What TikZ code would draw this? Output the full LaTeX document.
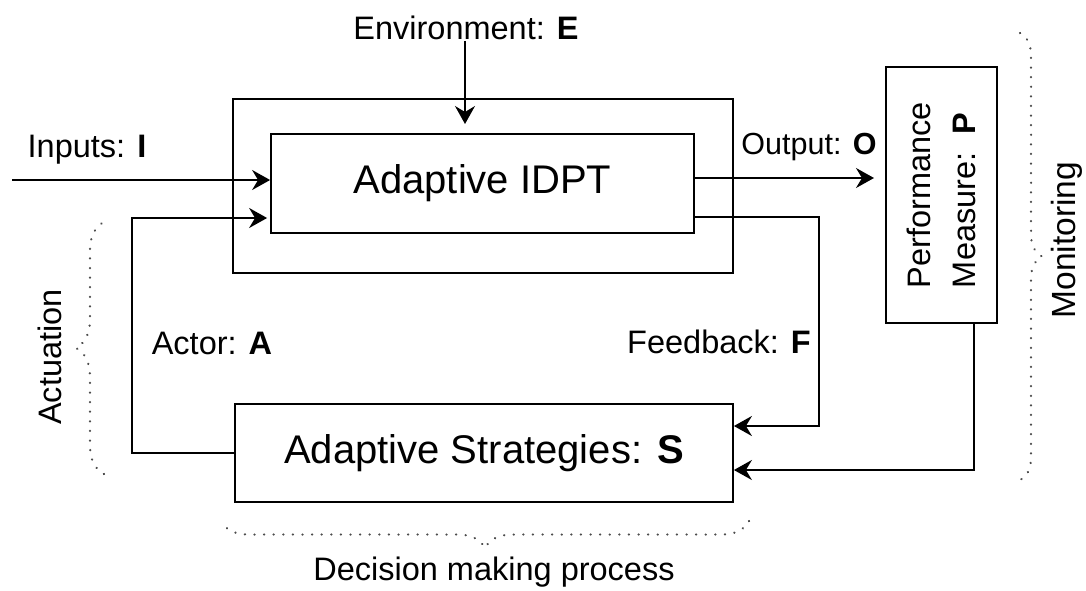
\documentclass[tikz,border=0pt]{standalone}
\usepackage{fontspec}
\setmainfont{Liberation Sans}
\usetikzlibrary{arrows.meta,decorations.pathreplacing}
\begin{document}
\begin{tikzpicture}[x=1pt,y=-1pt,
  line width=1.8pt,
  lbl/.style={font=\fontsize{32.5}{40}\selectfont, inner sep=0pt},
  big/.style={font=\fontsize{40}{48}\selectfont},
  boxs/.style={draw, rectangle, inner sep=0pt},
  arr/.style={-{Stealth[length=18pt,width=20pt,inset=6pt]}},
  dots/.style={line width=2.4pt, black!70, dash pattern=on 0.1pt off 9.5pt, line cap=round},
]
\useasboundingbox (0,0) rectangle (1086,590);

% boxes
\node[boxs, minimum width=500pt, minimum height=174pt] (outer) at (483,186) {};
\node[boxs, minimum width=423pt, minimum height=99pt, big] (idpt) at (482.5,183.5) {Adaptive IDPT};
\node[boxs, minimum width=498pt, minimum height=98pt, big] (strat) at (484,453) {Adaptive Strategies: \textbf{S}};
\node[boxs, minimum width=111pt, minimum height=256pt] (perf) at (941.5,195) {};
\node[lbl, rotate=90, align=left, font=\fontsize{32.5}{45}\selectfont] (perftxt) at (perf.center) {Performance\\Measure:\ \ \textbf{P}};

% labels
\node[lbl] (lin) at (87,150) {Inputs: \textbf{I}};
\node[lbl] (lenv) at (466,28) {Environment: \textbf{E}};
\node[lbl, font=\fontsize{30.5}{38}\selectfont] (lout) at (809,147) {Output: \textbf{O}};
\node[lbl] (lact) at (212,343) {Actor: \textbf{A}};
\node[lbl] (lfb) at (719,342) {Feedback: \textbf{F}};
\node[lbl, rotate=90] (lactuation) at (50,357) {Actuation};
\node[lbl, rotate=90, font=\fontsize{33.5}{40}\selectfont] (lmon) at (1067,240) {Monitoring};
\node[lbl] (ldec) at (494,572) {Decision making process};

% free ends
\coordinate (inStart) at (12,180);
\coordinate (envEnd) at (465,124);
\coordinate (outEnd) at (874,178);
\coordinate (fbCorner) at (819,217);
\coordinate (actCorner) at (132,453);

% connectors
\draw[arr] (inStart) -- (inStart -| idpt.west);
\draw[arr] (lenv.south -| envEnd) -- (envEnd);
\draw[arr] (idpt.east |- outEnd) -- (outEnd);
\draw[arr] (idpt.east |- fbCorner) -- (fbCorner) -- (fbCorner |- 0,426) -- (strat.east |- 0,426);
\draw[arr] ([xshift=-24pt]perf.south east) |- (strat.east |- 0,470);
\draw[arr, shorten >=3pt] (strat.west |- actCorner) -- (actCorner) -- (actCorner |- 0,218) -- (idpt.west |- 0,218);

% dotted braces
\draw[dots, decorate, decoration={brace, amplitude=22pt}] (1020,33) -- (1020,480);
\draw[dots, decorate, decoration={brace, amplitude=28pt}] (104,474) -- (104,222);
\draw[dots, decorate, decoration={brace, amplitude=27pt}] (749,521) -- (221,521);
\end{tikzpicture}
\end{document}
